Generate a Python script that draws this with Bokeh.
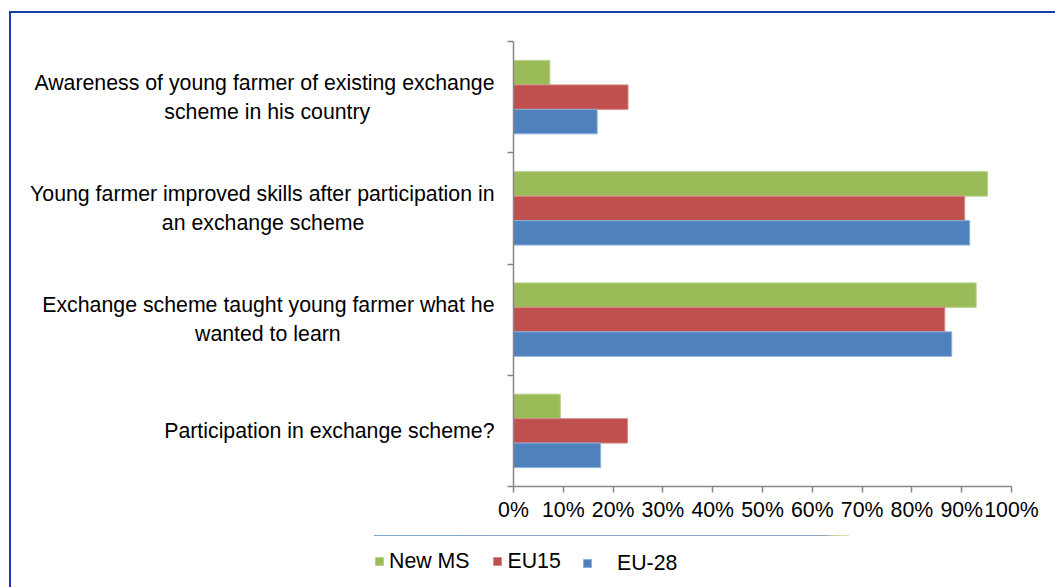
from bokeh.plotting import figure
from bokeh.layouts import column
from bokeh.models import (Range1d, LinearAxis, FixedTicker, InlineStyleSheet,
                          Legend, LegendItem, ColumnDataSource, PrintfTickFormatter)
from bokeh.transform import dodge
from bokeh.embed import file_html
from bokeh.resources import INLINE

NB = "\u00a0"  # non-breaking space (keeps 2nd label lines centred under the 1st)

# ---- data ----
categories = [
    "Awareness of young farmer of existing exchange\nscheme in his country" + NB * 21,
    "Young farmer improved skills after participation in\nan exchange scheme" + NB * 22,
    "Exchange scheme taught young farmer what he\nwanted to learn" + NB * 26,
    "Participation in exchange scheme?",
]
series_names = ["New MS", "EU15", "EU-28"]
new_ms = [7.3, 95.2, 92.9, 9.4]
eu15 = [23.0, 90.6, 86.6, 22.9]
eu28 = [16.8, 91.6, 88.0, 17.5]
x_ticks = [0, 10, 20, 30, 40, 50, 60, 70, 80, 90, 100]
colors = ["#9BBB59", "#C0504D", "#4F81BD"]
edge_colors = ["#B9D08C", "#D68A88", "#8DB0DA"]

FONT = "Liberation Sans"
FS = "21.3px"
AXIS_GREY = "#868686"

n = len(categories)
ypos = [n - 0.5 - i for i in range(n)]   # category centres, first category on top
source = ColumnDataSource(dict(y=ypos, cat=categories, new_ms=new_ms, eu15=eu15, eu28=eu28))

W, H1, H2 = 1055, 535, 52
p = figure(width=W, height=H1, output_backend="svg", toolbar_location=None,
           y_range=Range1d(0, n), x_range=Range1d(0, 100), y_axis_location=None,
           min_border_left=513, min_border_right=44, min_border_top=41, min_border_bottom=49)
p.outline_line_color = None
p.grid.visible = False
p.background_fill_color = "white"
p.border_fill_color = "white"

# bars
bar_h = 0.22
keys = ["new_ms", "eu15", "eu28"]
offsets = [bar_h, 0.0, -bar_h]
for k, off, c, ec in zip(keys, offsets, colors, edge_colors):
    p.hbar(y=dodge("y", off), left=0, right=k, height=bar_h,
           source=source, fill_color=c, line_color=ec, line_width=1)

# x axis
xa = p.xaxis[0]
xa.ticker = FixedTicker(ticks=x_ticks)
xa.formatter = PrintfTickFormatter(format="%d%%")
xa.axis_line_color = AXIS_GREY
xa.axis_line_width = 1.5
xa.major_tick_line_color = AXIS_GREY
xa.major_tick_line_width = 1.5
xa.major_tick_out = 6
xa.major_tick_in = 0
xa.minor_tick_line_color = None
xa.major_label_standoff = 5
xa.major_label_text_font = FONT
xa.major_label_text_font_size = FS
xa.major_label_text_color = "#000000"

# separator-tick axis (category boundaries)
sep_ticks = list(range(n + 1))
sep = LinearAxis(ticker=FixedTicker(ticks=sep_ticks),
                 major_label_overrides={t: "" for t in sep_ticks}, major_label_standoff=0,
                 major_tick_out=6, major_tick_in=0, minor_tick_line_color=None,
                 axis_line_color=AXIS_GREY, axis_line_width=1.5,
                 major_tick_line_color=AXIS_GREY, major_tick_line_width=1.5)
p.add_layout(sep, "left")

# category label axis
cat_axis = LinearAxis(ticker=FixedTicker(ticks=ypos),
                      major_label_overrides={yv: c for yv, c in zip(ypos, categories)},
                      axis_line_color=None, major_tick_line_color=None, minor_tick_line_color=None,
                      major_tick_out=0, major_tick_in=0,
                      major_label_standoff=13,
                      major_label_text_font=FONT, major_label_text_font_size=FS,
                      major_label_text_color="#000000")
p.add_layout(cat_axis, "left")

# ---- legend strip (separate figure; shifted left with CSS so its frame holds the legend) ----
lg = figure(width=W, height=H2, output_backend="svg", toolbar_location=None,
            x_range=Range1d(0, 100), y_range=Range1d(-20, -10),
            x_axis_location=None, y_axis_location=None, min_border=0)
lg.outline_line_color = None
lg.outline_line_alpha = 0
lg.grid.visible = False
lg.border_fill_alpha = 0
lg.background_fill_alpha = 0
lg.styles = {"transform": "translateX(-139px)"}
proxies = []
for k, c, ec in zip(keys, colors, edge_colors):
    # same data, outside this strip's visible range: only used as legend swatches
    proxies.append(lg.hbar(y="y", left=0, right=k, height=bar_h, source=source,
                           fill_color=c, line_color=ec))

common = dict(orientation="horizontal", padding=0, margin=0, glyph_width=10, glyph_height=10,
              border_line_color=None, border_line_alpha=0, background_fill_alpha=0,
              label_text_font=FONT, label_text_font_size=FS, label_text_color="#000000")
leg1 = Legend(items=[LegendItem(label=series_names[0], renderers=[proxies[0]]),
                     LegendItem(label=series_names[1], renderers=[proxies[1]])],
              location=(0, 13.5), spacing=23, label_standoff=5, **common)
leg2 = Legend(items=[LegendItem(label=series_names[2], renderers=[proxies[2]])],
              location=(208, 11.5), spacing=0, label_standoff=25, **common)
lg.add_layout(leg1, "center")
lg.add_layout(leg2, "center")

layout = column(p, lg, spacing=0)
# outer chart frame (only its top/left edges are visible in the picture)
layout.stylesheets = [InlineStyleSheet(css="""
:host::after {
  content: ""; position: absolute; left: 9px; top: 11px; right: 0; bottom: 0;
  border-left: 2px solid #1F3BA8; border-top: 2px solid #1F3BA8;
  pointer-events: none; z-index: 10;
}
""")]

open("out.html", "w").write(file_html(layout, INLINE))
